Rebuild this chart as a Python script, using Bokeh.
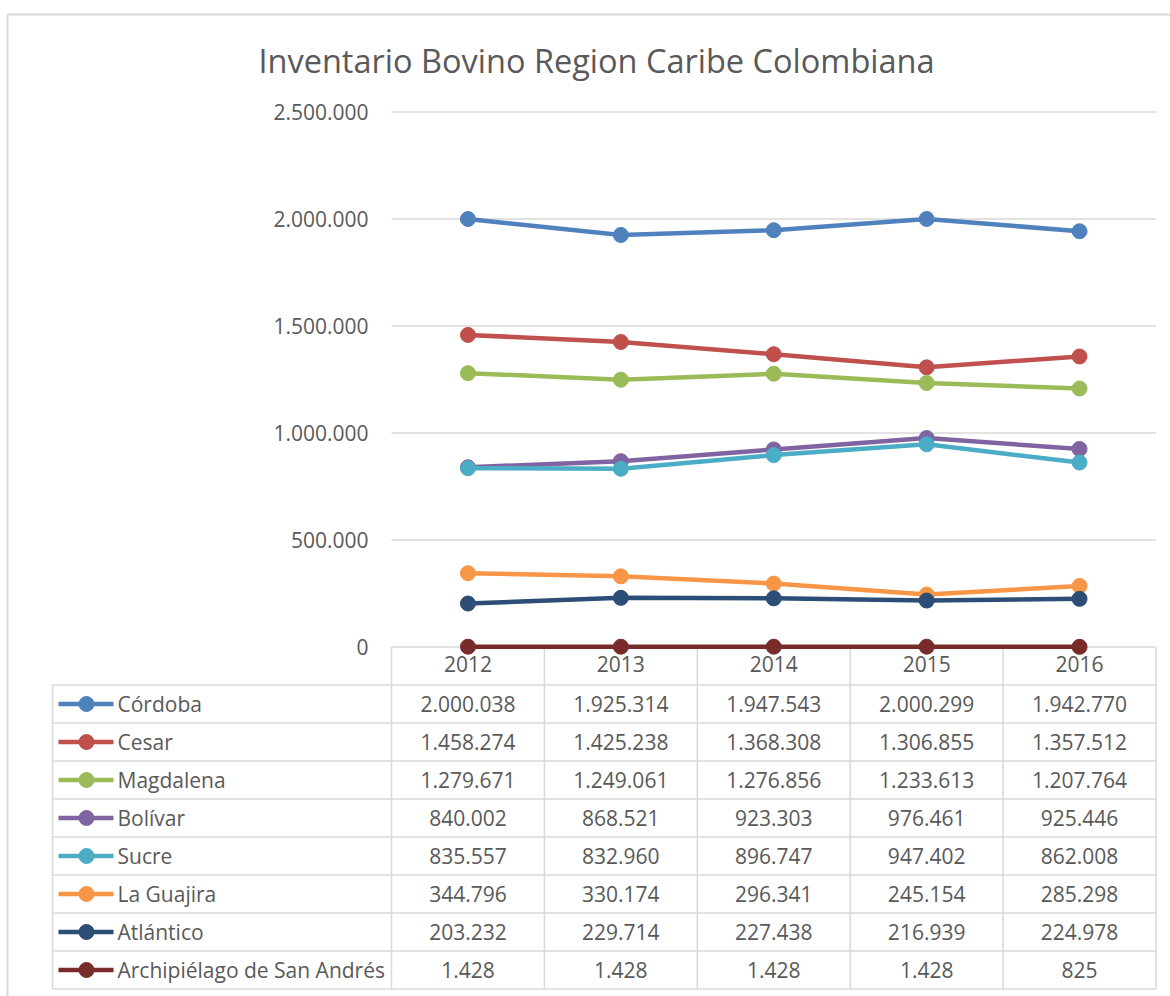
from bokeh.plotting import figure
from bokeh.models import ColumnDataSource
from bokeh.core.properties import value
from bokeh.embed import file_html
from bokeh.resources import INLINE

# ---------------- data ----------------
title_text = "Inventario Bovino Region Caribe Colombiana"
years = ["2012", "2013", "2014", "2015", "2016"]
departments = ["Córdoba", "Cesar", "Magdalena", "Bolívar", "Sucre",
               "La Guajira", "Atlántico", "Archipiélago de San Andrés"]
cordoba = [2000038, 1925314, 1947543, 2000299, 1942770]
cesar = [1458274, 1425238, 1368308, 1306855, 1357512]
magdalena = [1279671, 1249061, 1276856, 1233613, 1207764]
bolivar = [840002, 868521, 923303, 976461, 925446]
sucre = [835557, 832960, 896747, 947402, 862008]
la_guajira = [344796, 330174, 296341, 245154, 285298]
atlantico = [203232, 229714, 227438, 216939, 224978]
san_andres = [1428, 1428, 1428, 1428, 825]
y_ticks = [0, 500000, 1000000, 1500000, 2000000, 2500000]

series = [cordoba, cesar, magdalena, bolivar, sucre, la_guajira, atlantico, san_andres]
colors = ["#4F81BD", "#C0504D", "#9BBB59", "#8064A2", "#4BACC6",
          "#F79646", "#2C4D75", "#772C2A"]


def fmt(v):
    return f"{v:,}".replace(",", ".")


# ---------------- layout (pixels) ----------------
FIG_W, FIG_H = 1170, 996
COL = 152.9                  # table column width in px
X0 = 391                     # left edge of first year column (px)
Y0 = 646.5                   # value 0 (px from top)
PPU = 535 / 2.5e6            # px per unit value
ROW_PX = 38.0
ROWU = ROW_PX / PPU
TEXT_COLOR = "#595959"
GRID_COLOR = "#d9d9d9"
FONT = value("Open Sans")
FS = "21px"


def xpx(px):
    return (px - X0) / COL


def ypx(px):
    return (Y0 - px) / PPU


p = figure(width=FIG_W, height=FIG_H, output_backend="svg", toolbar_location=None,
           x_axis_location=None, y_axis_location=None,
           x_range=(xpx(0), xpx(FIG_W)), y_range=(ypx(FIG_H), ypx(0)),
           min_border_left=0, min_border_right=0, min_border_top=0, min_border_bottom=0)
p.grid.visible = False
p.outline_line_color = None
p.background_fill_color = "white"
p.border_fill_color = "white"

# chart-area border (left and top edges visible in the crop)
p.segment(x0=[xpx(7), xpx(7)], x1=[xpx(7), xpx(FIG_W)], y0=[ypx(14), ypx(14)],
          y1=[ypx(FIG_H), ypx(14)], line_color=GRID_COLOR, line_width=2)

ncat = len(years)
xs = [k + 0.5 for k in range(ncat)]

# gridlines (from y ticks)
p.segment(x0=[0] * len(y_ticks), x1=[ncat] * len(y_ticks), y0=y_ticks, y1=y_ticks,
          line_color=GRID_COLOR, line_width=1.5)

# y tick labels
p.text(x=[xpx(368)] * len(y_ticks), y=y_ticks, text=[fmt(v) for v in y_ticks],
       text_align="right", text_baseline="middle", text_color=TEXT_COLOR,
       text_font=FONT, text_font_size=FS)

# table grid
nrows = len(departments)
tl = xpx(52)
hy = [-(i + 1) * ROWU for i in range(nrows + 1)]
p.segment(x0=[tl] * len(hy), x1=[ncat] * len(hy), y0=hy, y1=hy,
          line_color=GRID_COLOR, line_width=1.5)
vx = list(range(ncat + 1))
p.segment(x0=vx, x1=vx, y0=[0] * len(vx), y1=[-(nrows + 1) * ROWU] * len(vx),
          line_color=GRID_COLOR, line_width=1.5)
p.segment(x0=[tl], x1=[tl], y0=[-ROWU], y1=[-(nrows + 1) * ROWU],
          line_color=GRID_COLOR, line_width=1.5)

# header years
p.text(x=xs, y=[-0.45 * ROWU] * ncat, text=years, text_align="center",
       text_baseline="middle", text_color=TEXT_COLOR, text_font=FONT, text_font_size=FS)

# lines
for vals, c in zip(series, colors):
    p.line(x=xs, y=vals, line_color=c, line_width=4.5)
    p.scatter(x=xs, y=vals, size=15, fill_color=c, line_color=c)

# table rows
for i, (name, vals, c) in enumerate(zip(departments, series, colors)):
    yc = -(i + 1.5) * ROWU
    p.line(x=[xpx(58), xpx(113)], y=[yc, yc], line_color=c, line_width=4.5)
    p.scatter(x=[xpx(86)], y=[yc], size=15, fill_color=c, line_color=c)
    p.text(x=[xpx(117)], y=[yc], text=[name], text_align="left", text_baseline="middle",
           text_color=TEXT_COLOR, text_font=FONT, text_font_size=FS)
    src = ColumnDataSource(dict(x=xs, y=[yc] * ncat, t=[fmt(v) for v in vals]))
    p.text(x="x", y="y", text="t", source=src, text_align="center", text_baseline="middle",
           text_color=TEXT_COLOR, text_font=FONT, text_font_size=FS)

# title
p.text(x=[xpx(596)], y=[ypx(60)], text=[title_text], text_align="center",
       text_baseline="middle", text_color=TEXT_COLOR, text_font=FONT, text_font_size="32.5px")

open("out.html", "w").write(file_html(p, INLINE))
